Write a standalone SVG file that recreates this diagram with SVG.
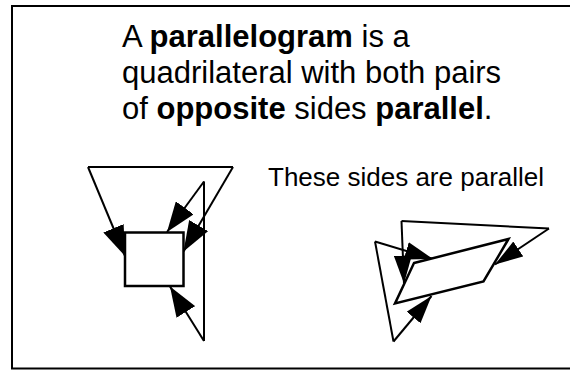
<svg xmlns="http://www.w3.org/2000/svg" width="570" height="371" viewBox="0 0 570 371">
  <style>
    .t { font-family: "Liberation Sans", Arial, sans-serif; fill: #000; }
    .b { font-weight: bold; }
    .ln { fill: none; stroke: #000; stroke-width: 2; stroke-linejoin: miter; }
    .shape { fill: #fff; stroke: #000; stroke-width: 2.5; }
  </style>
  <defs>
    <marker id="ahL" markerUnits="userSpaceOnUse" markerWidth="30" markerHeight="22" refX="30" refY="11" orient="auto">
      <path d="M0,0 L30,11 L0,22 z" fill="#000"/>
    </marker>
    <marker id="ahR" markerUnits="userSpaceOnUse" markerWidth="28" markerHeight="18" refX="28" refY="9" orient="auto">
      <path d="M0,0 L28,9 L0,18 z" fill="#000"/>
    </marker>
  </defs>
  <rect width="570" height="371" fill="#fff"/>
  <path d="M575,6 H12 V368.5 H575" fill="none" stroke="#000" stroke-width="2"/>

  <g id="title">
    <text class="t" x="122" y="47" font-size="31">A <tspan class="b">parallelogram</tspan> is a</text>
    <text class="t" x="122" y="83" font-size="31">quadrilateral with both pairs</text>
    <text class="t" x="122" y="119" font-size="31">of <tspan class="b">opposite</tspan> sides <tspan class="b">parallel</tspan>.</text>
  </g>
  <g id="label">
    <text class="t" x="268" y="186" font-size="26">These sides are parallel</text>
  </g>

  <g id="connectors">
    <!-- left figure -->
    <line class="ln" x1="88" y1="167" x2="233" y2="167"/>
    <line class="ln" x1="88" y1="167" x2="125" y2="256" marker-end="url(#ahL)"/>
    <line class="ln" x1="233" y1="167" x2="183.5" y2="251.5" marker-end="url(#ahL)"/>
    <line class="ln" x1="204" y1="181.5" x2="204" y2="341"/>
    <line class="ln" x1="204" y1="181.5" x2="167" y2="232" marker-end="url(#ahL)"/>
    <line class="ln" x1="204" y1="341" x2="170" y2="286.5" marker-end="url(#ahL)"/>
    <!-- right figure -->
    <line class="ln" x1="549" y1="228.5" x2="401.5" y2="221"/>
    <line class="ln" x1="401.5" y1="221" x2="404" y2="283.5" marker-end="url(#ahR)"/>
    <line class="ln" x1="549" y1="228.5" x2="495" y2="264.5" marker-end="url(#ahR)"/>
    <line class="ln" x1="375" y1="241.5" x2="433" y2="259" marker-end="url(#ahR)"/>
    <line class="ln" x1="375" y1="241.5" x2="393.5" y2="341.5"/>
    <line class="ln" x1="393.5" y1="341.5" x2="431.5" y2="296" marker-end="url(#ahR)"/>
  </g>

  <g id="square">
    <rect class="shape" x="125" y="232.5" width="58.5" height="53.5"/>
  </g>
  <g id="parallelogram">
    <polygon class="shape" stroke-width="2" points="414,263 508.5,239 483.5,281.5 395,303.5"/>
  </g>
</svg>
